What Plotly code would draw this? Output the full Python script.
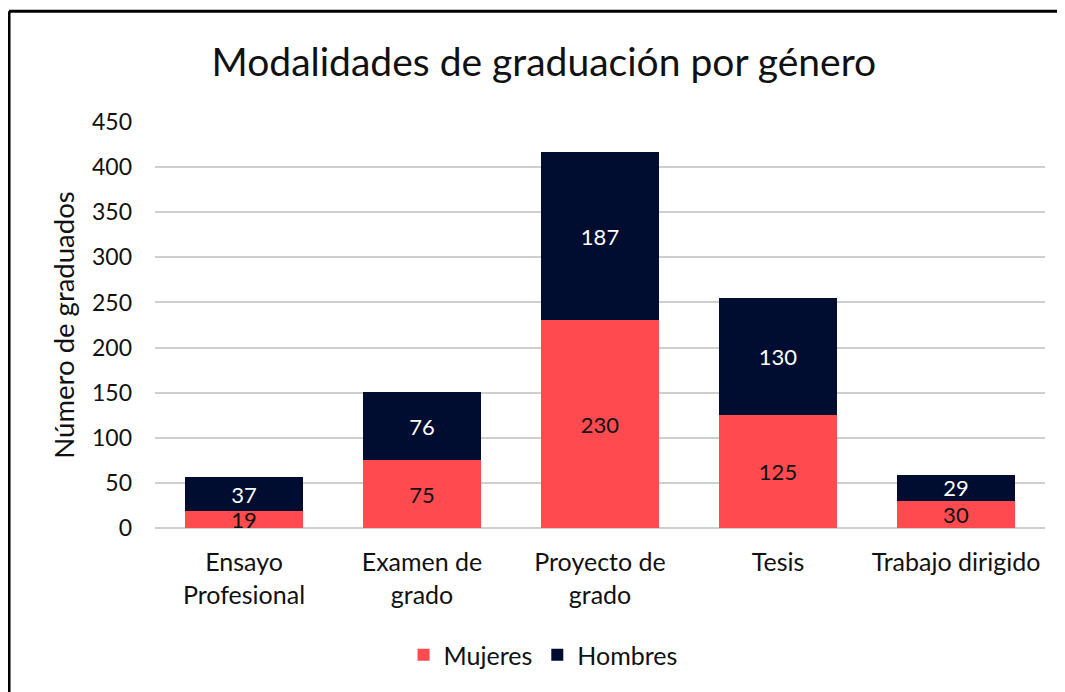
import plotly.graph_objects as go

categories = ["Ensayo<br>Profesional", "Examen de<br>grado", "Proyecto de<br>grado", "Tesis", "Trabajo dirigido"]
mujeres = [19, 75, 230, 125, 30]
hombres = [37, 76, 187, 130, 29]

FONT = "Lato"
TXT = "#111111"

fig = go.Figure()
fig.add_trace(go.Bar(
    x=categories, y=mujeres, name="Mujeres",
    marker=dict(color="#FF4A50", line=dict(width=0)),
    text=mujeres, textposition="inside", insidetextanchor="middle", textangle=0,
    textfont=dict(color=TXT, size=22, family=FONT),
    constraintext="none",
))
fig.add_trace(go.Bar(
    x=categories, y=hombres, name="Hombres",
    marker=dict(color="#000C30", line=dict(width=0)),
    text=hombres, textposition="inside", insidetextanchor="middle", textangle=0,
    textfont=dict(color="#FFFFFF", size=22, family=FONT),
    constraintext="none",
))

fig.update_layout(
    barmode="stack",
    bargap=0.337,
    width=1057, height=684,
    margin=dict(l=147, r=20, t=114, b=164),
    paper_bgcolor="white", plot_bgcolor="white",
    font=dict(family=FONT, color=TXT),
    uniformtext=dict(minsize=22, mode="show"),
    title=dict(text="Modalidades de graduación por género", x=0.507, xanchor="center",
               y=0.92, yanchor="middle", font=dict(size=39, family=FONT, color=TXT)),
    legend=dict(orientation="h", x=0.436, xanchor="center", y=-0.313, yanchor="middle",
                font=dict(size=25, family=FONT), traceorder="normal"),
    yaxis=dict(range=[0, 450], dtick=50, showgrid=True, gridcolor="#CFCFCF", gridwidth=1.5,
               zeroline=True, zerolinecolor="#CFCFCF", zerolinewidth=1.5,
               tickfont=dict(size=23, family=FONT), ticks="", ticklabelstandoff=22,
               title=dict(text="Número de graduados", font=dict(size=27.5, family=FONT), standoff=9),
               showline=False),
    xaxis=dict(tickfont=dict(size=25, family=FONT), showline=False, ticks="", ticklabelstandoff=17),
    shapes=[
        dict(type="line", xref="paper", yref="paper", x0=-0.164, x1=1.03, y0=1.273, y1=1.273,
             line=dict(color="black", width=3)),
        dict(type="line", xref="paper", yref="paper", x0=-0.164, x1=-0.164, y0=1.273, y1=-0.41,
             line=dict(color="black", width=3)),
    ],
)

fig.write_html("out.html")
